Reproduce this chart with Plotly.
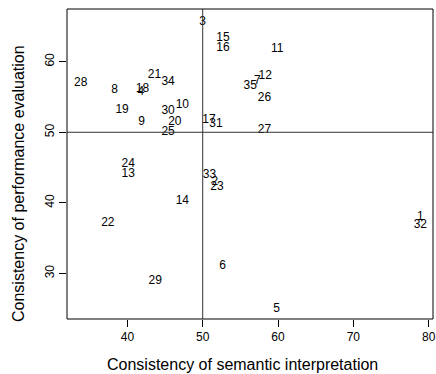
import plotly.graph_objects as go

labels = [str(i) for i in range(1, 36)]
semantic = [78.9, 51.6, 50.0, 41.8, 59.8, 52.65, 57.25, 38.3, 41.9, 47.3,
            59.9, 58.3, 40.1, 47.3, 52.7, 52.7, 50.84, 42.0, 39.3, 46.3,
            43.6, 37.4, 51.9, 40.1, 45.4, 58.2, 58.2, 33.8, 43.7, 45.4,
            51.77, 78.9, 50.9, 45.4, 56.3]
performance = [38.0, 42.9, 65.55, 55.7, 24.9, 31.0, 57.2, 56.0, 51.4, 53.9,
               61.8, 57.9, 44.1, 40.3, 63.3, 61.9, 51.7, 56.1, 53.1, 51.5,
               58.1, 37.1, 42.3, 45.5, 50.0, 54.9, 50.35, 57.0, 28.9, 52.95,
               51.2, 36.8, 44.0, 57.05, 56.6]
x_ticks = [40, 50, 60, 70, 80]
y_ticks = [30, 40, 50, 60]
x_title = "Consistency of semantic interpretation"
y_title = "Consistency of performance evaluation"

font = "Liberation Sans, Arial, sans-serif"
W, H = 436, 374
ML, MR, MT, MB = 67, 3, 9, 55

fig = go.Figure()
fig.add_trace(go.Scatter(
    x=semantic, y=performance, text=labels, mode="text",
    textposition="middle center", cliponaxis=False,
    textfont=dict(family=font, size=12, color="black"),
    hoverinfo="skip", showlegend=False,
))

fig.add_shape(type="line", xref="x", yref="paper", x0=50, x1=50, y0=0, y1=1,
              line=dict(color="#333", width=1))
fig.add_shape(type="line", xref="paper", yref="y", x0=0, x1=1, y0=50, y1=50,
              line=dict(color="#333", width=1))
fig.add_shape(type="rect", xref="paper", yref="paper", x0=0, x1=1, y0=0, y1=1,
              line=dict(color="black", width=1))

ph = H - MT - MB
pw = W - ML - MR
fig.add_annotation(text=x_title, xref="paper", yref="paper",
                   x=(242.5 - ML) / pw,
                   y=-(364 - (MT + ph)) / ph,
                   showarrow=False, xanchor="center", yanchor="middle",
                   font=dict(family=font, size=16, color="black"))
fig.add_annotation(text=y_title, xref="paper", yref="paper",
                   x=-(ML - 18) / pw, y=1 - (184 - MT) / ph,
                   textangle=-90,
                   showarrow=False, xanchor="center", yanchor="middle",
                   font=dict(family=font, size=16, color="black"))

fig.update_layout(
    width=W, height=H,
    margin=dict(l=ML, r=MR, t=MT, b=MB, autoexpand=False),
    paper_bgcolor="white", plot_bgcolor="white",
    font=dict(family=font, size=12, color="black"),
    xaxis=dict(range=[31.98, 80.58], tickvals=x_ticks, ticks="outside",
               ticklen=7, tickcolor="black", showgrid=False, zeroline=False,
               showline=False, tickfont=dict(size=12), automargin=False),
    yaxis=dict(range=[23.55, 67.46], tickvals=y_ticks, ticks="outside",
               ticklen=7, tickcolor="black", showgrid=False, zeroline=False,
               showline=False, tickangle=-90, tickfont=dict(size=12),
               automargin=False),
)

fig.write_html("out.html", config={"displayModeBar": False},
               post_script="document.body.style.margin='0';document.body.style.padding='0';")
